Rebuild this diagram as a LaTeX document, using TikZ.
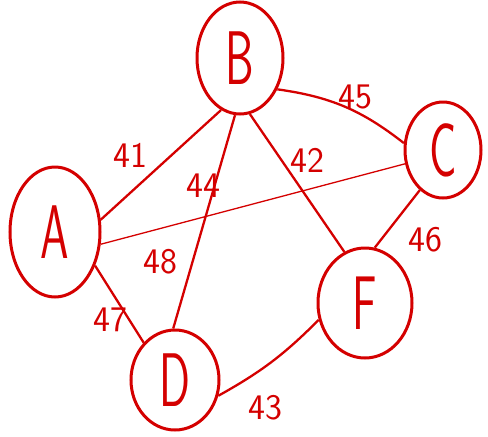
\documentclass[tikz,border=0pt]{standalone}
\usetikzlibrary{shapes.geometric}
\definecolor{ink}{HTML}{D40000}
\begin{document}
\begin{tikzpicture}[x=1pt,y=-1pt,
  vert/.style={draw=ink,line width=3pt,ellipse,inner sep=0pt,text=ink,
    font=\sffamily\fontsize{76}{76}\selectfont},
  edge/.style={draw=ink,line width=2.3pt},
  thinedge/.style={draw=ink,line width=1.3pt},
  wlab/.style={text=ink,inner sep=0pt,font=\sffamily\fontsize{36}{36}\selectfont}]
\useasboundingbox (0,0) rectangle (488,437);
\node[vert,minimum width=86pt,minimum height=112pt] (B) at (240,58) {\scalebox{0.6}[1]{B}};
\node[vert,minimum width=76pt,minimum height=96pt] (C) at (443,150) {\scalebox{0.6}[1]{C}};
\node[vert,minimum width=90pt,minimum height=130pt] (A) at (55,232) {\scalebox{0.6}[1]{A}};
\node[vert,minimum width=94pt,minimum height=110pt] (E) at (365,303) {\scalebox{0.6}[1]{F}};
\node[vert,minimum width=88pt,minimum height=100pt] (D) at (175,380) {\scalebox{0.6}[1]{D}};
\draw[edge] (A.15) -- (B.250);
\draw[edge] (B.-40) to[bend left=15] (C.170);
\draw[edge] (B.265) -- (D.92);
\draw[edge] (B.-80) -- (E.112);
\draw[thinedge] (A.-15) -- (C.200);
\draw[edge] (C.240) -- (E.80);
\draw[edge] (A.-40) -- (D.130);
\draw[edge] (D.-20) to[bend right=8] (E.200);
\node[wlab] (l41) at (130,155) {41};
\node[wlab] (l45) at (355,97) {45};
\node[wlab] (l44) at (203,186) {44};
\node[wlab] (l42) at (307,160) {42};
\node[wlab] (l46) at (425,240) {46};
\node[wlab] (l48) at (160,262) {48};
\node[wlab] (l47) at (110,320) {47};
\node[wlab] (l43) at (265,408) {43};
\end{tikzpicture}
\end{document}
